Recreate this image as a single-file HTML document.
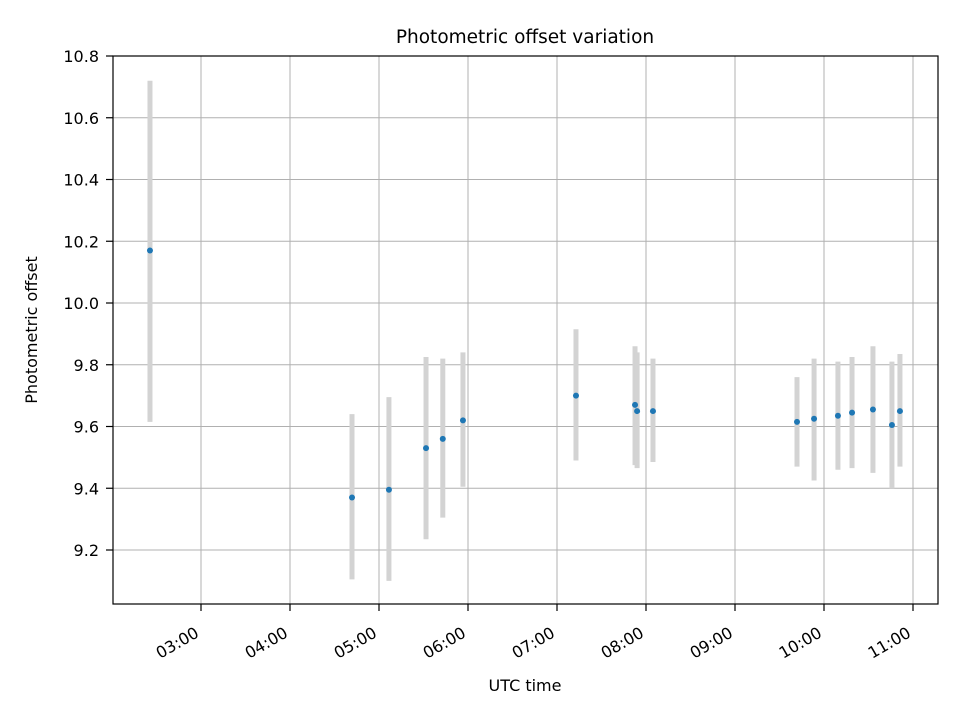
<!DOCTYPE html>
<html><head><meta charset="utf-8"><style>
body{margin:0;background:#fff}
svg{display:block;font-family:"DejaVu Sans","Liberation Sans",sans-serif}
</style></head><body>
<svg id="chart" width="960" height="720" viewBox="0 0 960 720" xmlns="http://www.w3.org/2000/svg">
<rect width="960" height="720" fill="#fff"/>
<g id="grid"></g>
<g id="bars"></g>
<g id="pts"></g>
<rect x="113" y="56" width="825" height="548" fill="none" stroke="#000" stroke-width="1.2"/>
<g id="axes"></g>
<text x="525" y="43" text-anchor="middle" font-size="18.5">Photometric offset variation</text>
<text x="525" y="691" text-anchor="middle" font-size="16">UTC time</text>
<text transform="translate(37,330) rotate(-90)" text-anchor="middle" font-size="16">Photometric offset</text>
</svg>
<script>
// times in minutes since 00:00 UTC
const times = [145.6, 281.8, 306.7, 331.7, 343, 356.6, 432.8, 472.6, 474, 484.7, 581.8, 593.3, 609.4, 618.9, 633, 645.8, 651.2];
const values = [10.17, 9.37, 9.395, 9.53, 9.56, 9.62, 9.70, 9.67, 9.65, 9.65, 9.615, 9.625, 9.635, 9.645, 9.655, 9.605, 9.65];
const errLow = [9.615, 9.105, 9.10, 9.235, 9.305, 9.405, 9.49, 9.475, 9.465, 9.485, 9.47, 9.425, 9.46, 9.465, 9.45, 9.40, 9.47];
const errHigh = [10.72, 9.64, 9.695, 9.825, 9.82, 9.84, 9.915, 9.86, 9.84, 9.82, 9.76, 9.82, 9.81, 9.825, 9.86, 9.81, 9.835];
const xTicks = [180, 240, 300, 360, 420, 480, 540, 600, 660];
const xTickLabels = ["03:00","04:00","05:00","06:00","07:00","08:00","09:00","10:00","11:00"];
const yTicks = [9.2, 9.4, 9.6, 9.8, 10.0, 10.2, 10.4, 10.6, 10.8];
const yTickLabels = ["9.2","9.4","9.6","9.8","10.0","10.2","10.4","10.6","10.8"];

const NS = "http://www.w3.org/2000/svg";
const X = m => 201 + (m - 180) * 89 / 60;
const Y = v => 550 - (v - 9.2) * 308.75;
function mk(tag, attrs, parent) {
  const e = document.createElementNS(NS, tag);
  for (const k in attrs) e.setAttribute(k, attrs[k]);
  document.getElementById(parent).appendChild(e);
  return e;
}
xTicks.forEach((t, i) => {
  const x = X(t);
  const g = mk("line", {x1: x, x2: x, y1: 56, y2: 604, stroke: "#b0b0b0", "stroke-width": 1}, "grid");
  
  
  const tk = mk("line", {x1: x, x2: x, y1: 604, y2: 611, stroke: "#000", "stroke-width": 1.2}, "axes");
  
  
  const lb = mk("text", {transform: `translate(${x - 1},${636}) rotate(-30)`, "text-anchor": "end", "font-size": 16}, "axes");
  lb.textContent = xTickLabels[i];
  
  
});
yTicks.forEach((t, i) => {
  const y = Y(t);
  const g = mk("line", {x1: 113, x2: 938, y1: y, y2: y, stroke: "#b0b0b0", "stroke-width": 1}, "grid");
  
  
  const tk = mk("line", {x1: 106, x2: 113, y1: y, y2: y, stroke: "#000", "stroke-width": 1.2}, "axes");
  
  
  const lb = mk("text", {x: 99, y: y + 6, "text-anchor": "end", "font-size": 16}, "axes");
  lb.textContent = yTickLabels[i];
  
  
});
times.forEach((t, i) => {
  const x = X(t);
  const b = mk("line", {x1: x, x2: x, y1: Y(errLow[i]), y2: Y(errHigh[i]), stroke: "#d3d3d3", "stroke-width": 5}, "bars");
  
  
});
times.forEach((t, i) => {
  const p = mk("circle", {cx: X(t), cy: Y(values[i]), r: 3, fill: "#1f77b4"}, "pts");
  
  
});
</script>
</body></html>
